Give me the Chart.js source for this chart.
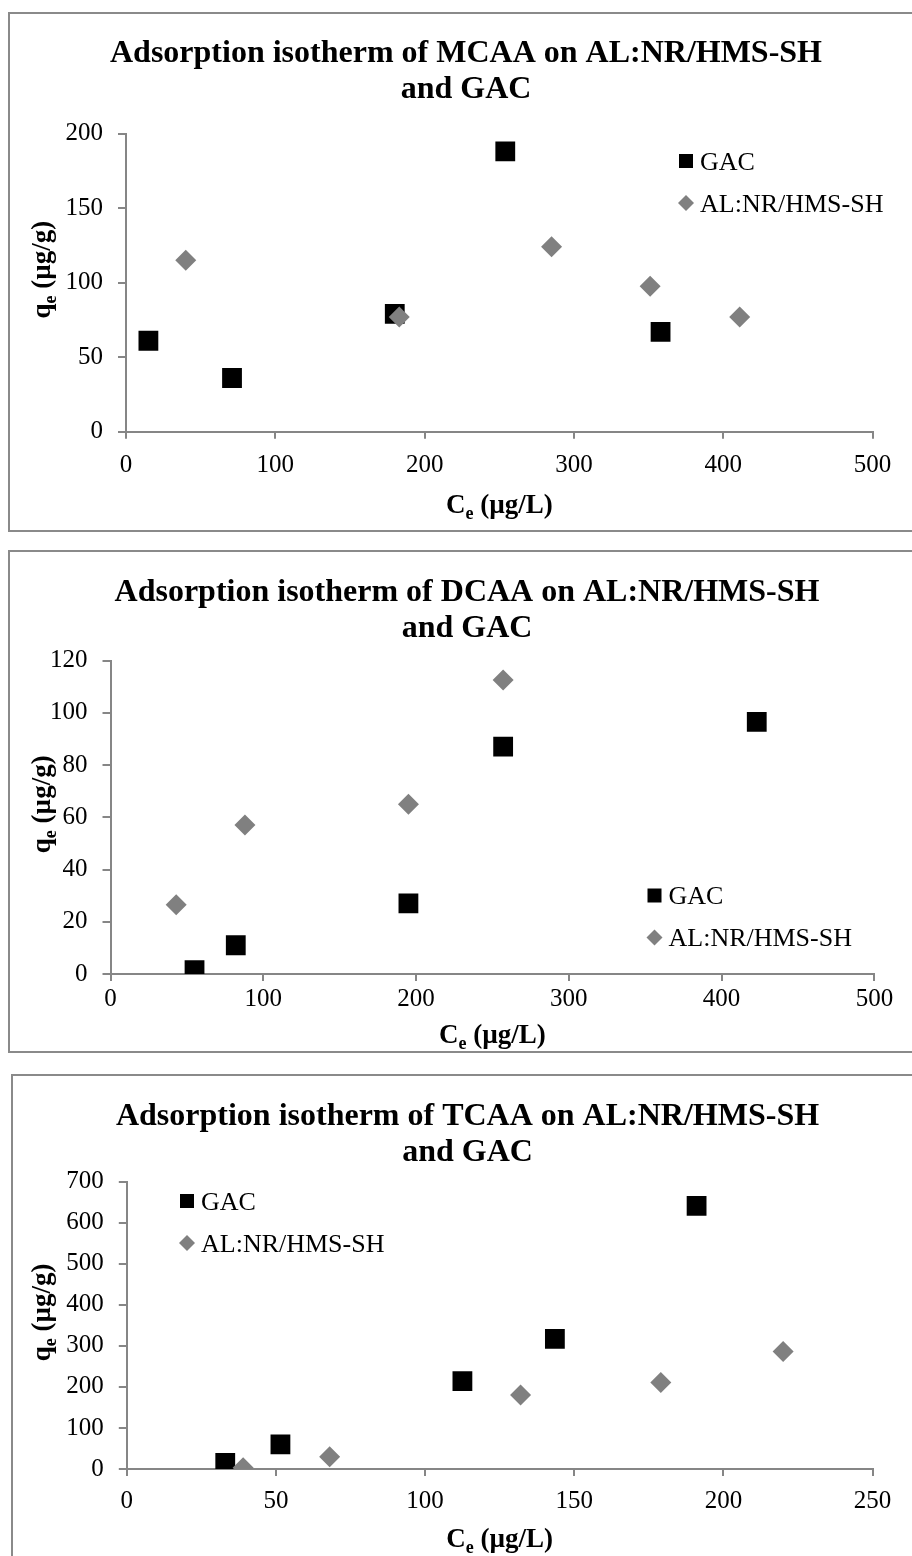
<!DOCTYPE html>
<html><head><meta charset="utf-8">
<script src="https://cdn.jsdelivr.net/npm/chart.js@4.4.1/dist/chart.umd.min.js"></script>
<style>
html,body{margin:0;padding:0;background:#fff;width:912px;height:1556px;overflow:hidden;position:relative;}
.box{position:absolute;border:2px solid #8a8a8a;box-sizing:border-box;}
canvas{position:absolute;left:0;}
</style></head><body>
<div class="box" style="left:8px;top:12px;width:940px;height:520px"></div>
<div class="box" style="left:8px;top:550px;width:940px;height:503px"></div>
<div class="box" style="left:11px;top:1074px;width:940px;height:600px"></div>
<canvas id="c1" width="912" height="518" style="top:13px"></canvas>
<canvas id="c2" width="912" height="501" style="top:551px"></canvas>
<canvas id="c3" width="912" height="481" style="top:1075px"></canvas>
<script>
// ---------- data ----------
const seriesNames = ['GAC', 'AL:NR/HMS-SH'];

const mcaaTitle = ['Adsorption isotherm of MCAA on AL:NR/HMS-SH', 'and GAC'];
const mcaaGacX = [15, 71, 180, 254, 358];
const mcaaGacY = [61, 36, 79, 188, 67];
const mcaaAlX = [40, 183, 285, 351, 411];
const mcaaAlY = [115, 77, 124, 97.5, 77];
const mcaaXTicks = [0, 100, 200, 300, 400, 500];
const mcaaYTicks = [0, 50, 100, 150, 200];

const dcaaTitle = ['Adsorption isotherm of DCAA on AL:NR/HMS-SH', 'and GAC'];
const dcaaGacX = [55, 82, 195, 257, 423];
const dcaaGacY = [1.5, 11, 27, 87, 96.5];
const dcaaAlX = [43, 88, 195, 257];
const dcaaAlY = [26.5, 57, 65, 112.5];
const dcaaXTicks = [0, 100, 200, 300, 400, 500];
const dcaaYTicks = [0, 20, 40, 60, 80, 100, 120];

const tcaaTitle = ['Adsorption isotherm of TCAA on AL:NR/HMS-SH', 'and GAC'];
const tcaaGacX = [33, 51.5, 112.5, 143.5, 191];
const tcaaGacY = [15, 60, 214, 317, 641];
const tcaaAlX = [39, 68, 132, 179, 220];
const tcaaAlY = [3, 30, 180, 211, 286];
const tcaaXTicks = [0, 50, 100, 150, 200, 250];
const tcaaYTicks = [0, 100, 200, 300, 400, 500, 600, 700];

const xTitleParts = [['C', 0], ['e', 1], [' (µg/L)', 0]];
const yTitleParts = [['q', 0], ['e', 1], [' (µg/g)', 0]];

// ---------- drawing ----------
const FONT = '"Liberation Serif", "Times New Roman", serif';
const AXIS_GRAY = '#868686';

function axisTitlePlugin(o) {
  return {
    id: 'axisTitles',
    afterDraw(chart) {
      const ctx = chart.ctx, a = chart.chartArea;
      function draw(parts, cx, cy, rot) {
        ctx.save();
        ctx.translate(cx, cy); ctx.rotate(rot);
        ctx.fillStyle = '#000'; ctx.textBaseline = 'alphabetic'; ctx.textAlign = 'left';
        const items = parts.map(p => {
          const size = p[1] ? o.subSize : o.size;
          ctx.font = 'bold ' + size + 'px ' + FONT;
          return { t: p[0], size, sub: p[1], w: ctx.measureText(p[0]).width };
        });
        const total = items.reduce((s, it) => s + it.w, 0);
        let x = -total / 2;
        items.forEach(it => {
          ctx.font = 'bold ' + it.size + 'px ' + FONT;
          ctx.fillText(it.t, x, o.size * 0.33 + (it.sub ? o.subDy : 0));
          x += it.w;
        });
        ctx.restore();
      }
      draw(xTitleParts, (a.left + a.right) / 2, a.bottom + o.xOffset, 0);
      draw(yTitleParts, o.yX, (a.top + a.bottom) / 2 + o.yShift, -Math.PI / 2);
    }
  };
}

function legendPlugin(o) {
  return {
    id: 'innerLegend',
    afterDraw(chart) {
      const ctx = chart.ctx;
      chart.data.datasets.forEach((ds, i) => {
        const cy = o.y + i * o.dy, cx = o.x;
        ctx.save();
        ctx.fillStyle = ds.backgroundColor;
        ctx.beginPath();
        if (ds.pointStyle === 'rect') {
          ctx.rect(cx - 7, cy - 7, 14, 14);
        } else {
          ctx.moveTo(cx - 8, cy); ctx.lineTo(cx, cy - 8); ctx.lineTo(cx + 8, cy); ctx.lineTo(cx, cy + 8);
          ctx.closePath();
        }
        ctx.fill();
        ctx.fillStyle = '#000';
        ctx.font = o.fontSize + 'px ' + FONT;
        ctx.textBaseline = 'alphabetic'; ctx.textAlign = 'left';
        ctx.fillText(ds.label, cx + 14, cy + o.fontSize * 0.33);
        ctx.restore();
      });
    }
  };
}

function makeChart(id, c) {
  const canvas = document.getElementById(id);
  const W = canvas.width, H = canvas.height;
  const padLeft = 2 * c.titleCenter - W;
  const titleSize = 32, titleLH = 36;
  const pts = (xs, ys) => xs.map((x, i) => ({ x: x, y: ys[i] }));
  const tickFont = { family: FONT, size: 25 };
  new Chart(canvas, {
    type: 'scatter',
    data: {
      datasets: [
        { label: seriesNames[0], data: pts(c.gacX, c.gacY), pointStyle: 'rect', pointRadius: 14, pointHoverRadius: 14,
          backgroundColor: '#000000', borderColor: '#000000', borderWidth: 0, order: 2 },
        { label: seriesNames[1], data: pts(c.alX, c.alY), pointStyle: 'rectRot', pointRadius: 10.5, pointHoverRadius: 10.5,
          backgroundColor: '#808080', borderColor: '#808080', borderWidth: 0, order: 1 }
      ]
    },
    options: {
      responsive: false, animation: false, devicePixelRatio: 1,
      events: [],
      layout: { padding: { left: padLeft, right: 0, top: 0, bottom: 0 } },
      plugins: {
        legend: { display: false },
        tooltip: { enabled: false },
        title: {
          display: true, text: c.title, color: '#000',
          font: { family: FONT, size: titleSize, weight: 'bold', lineHeight: titleLH / titleSize },
          padding: { top: c.titleTop, bottom: c.plot.top - c.titleTop - 2 * titleLH }
        }
      },
      scales: {
        x: {
          type: 'linear', position: 'bottom', min: c.xTicks[0], max: c.xTicks[c.xTicks.length - 1],
          afterBuildTicks: s => { s.ticks = c.xTicks.map(v => ({ value: v })); },
          afterFit: s => { s.height = H - c.plot.bottom; },
          grid: { display: true, drawOnChartArea: false, drawTicks: true, tickLength: 7, color: AXIS_GRAY, lineWidth: 2 },
          border: { display: true, color: AXIS_GRAY, width: 2 },
          ticks: { font: tickFont, color: '#000', padding: c.xTickPad, maxRotation: 0, autoSkip: false },
          title: { display: false }
        },
        y: {
          type: 'linear', position: 'left', min: c.yTicks[0], max: c.yTicks[c.yTicks.length - 1],
          afterBuildTicks: s => { s.ticks = c.yTicks.map(v => ({ value: v })); },
          afterFit: s => { s.width = c.plot.left - padLeft; },
          grid: { display: true, drawOnChartArea: false, drawTicks: true, tickLength: 8, color: AXIS_GRAY, lineWidth: 2 },
          border: { display: true, color: AXIS_GRAY, width: 2 },
          ticks: { font: tickFont, color: '#000', padding: 15, autoSkip: false },
          title: { display: false }
        },
        yRight: {
          type: 'linear', position: 'right', display: true, min: 0, max: 1,
          afterFit: s => { s.width = W - c.plot.right; },
          grid: { display: false, drawTicks: false },
          border: { display: false },
          ticks: { display: false },
          title: { display: false }
        }
      }
    },
    plugins: [
      axisTitlePlugin({ size: 27, subSize: 18, subDy: 6, xOffset: c.xTitleOffset, yX: 41, yShift: -13 }),
      legendPlugin({ x: c.legend[0], y: c.legend[1], dy: 42, fontSize: 26 })
    ]
  });
}

makeChart('c1', {
  title: mcaaTitle, gacX: mcaaGacX, gacY: mcaaGacY, alX: mcaaAlX, alY: mcaaAlY,
  xTicks: mcaaXTicks, yTicks: mcaaYTicks,
  plot: { left: 126, right: 872.6, top: 120.5, bottom: 418.7 },
  titleCenter: 466, titleTop: 23, xTickPad: 12, xTitleOffset: 72,
  legend: [686, 148]
});
makeChart('c2', {
  title: dcaaTitle, gacX: dcaaGacX, gacY: dcaaGacY, alX: dcaaAlX, alY: dcaaAlY,
  xTicks: dcaaXTicks, yTicks: dcaaYTicks,
  plot: { left: 110.5, right: 874.4, top: 109.5, bottom: 423 },
  titleCenter: 467, titleTop: 24, xTickPad: 3, xTitleOffset: 60,
  legend: [654.5, 344.5]
});
makeChart('c3', {
  title: tcaaTitle, gacX: tcaaGacX, gacY: tcaaGacY, alX: tcaaAlX, alY: tcaaAlY,
  xTicks: tcaaXTicks, yTicks: tcaaYTicks,
  plot: { left: 126.8, right: 872.6, top: 106.7, bottom: 394 },
  titleCenter: 467.5, titleTop: 23.7, xTickPad: 10, xTitleOffset: 69,
  legend: [187, 126]
});
</script>
</body></html>
